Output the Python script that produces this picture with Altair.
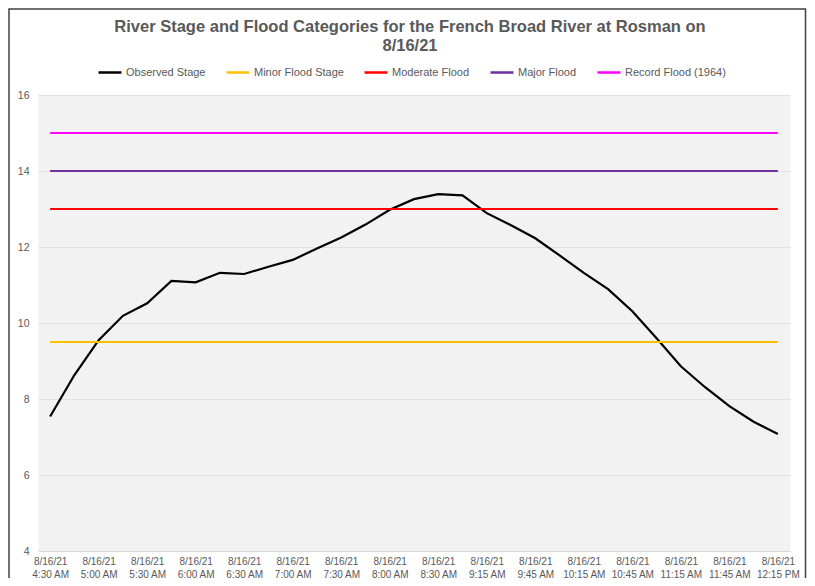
import altair as alt
import pandas as pd

# ---- data ----
date = "8/16/21"
times = ["4:30 AM", "4:45 AM", "5:00 AM", "5:15 AM", "5:30 AM", "5:45 AM", "6:00 AM",
         "6:15 AM", "6:30 AM", "6:45 AM", "7:00 AM", "7:15 AM", "7:30 AM", "7:45 AM",
         "8:00 AM", "8:15 AM", "8:30 AM", "9:00 AM", "9:15 AM", "9:30 AM", "9:45 AM",
         "10:00 AM", "10:15 AM", "10:30 AM", "10:45 AM", "11:00 AM", "11:15 AM",
         "11:30 AM", "11:45 AM", "12:00 PM", "12:15 PM"]
observed = [7.54, 8.63, 9.55, 10.19, 10.52, 11.11, 11.07, 11.32, 11.29, 11.48,
            11.66, 11.96, 12.25, 12.59, 12.98, 13.26, 13.39, 13.36, 12.89, 12.57,
            12.23, 11.78, 11.32, 10.89, 10.31, 9.60, 8.86, 8.31, 7.81, 7.40, 7.08]
series_names = ["Observed Stage", "Minor Flood Stage", "Moderate Flood",
                "Major Flood", "Record Flood (1964)"]
flood_levels = [9.5, 13.0, 14.0, 15.0]
colors = ["#000000", "#FFC000", "#FF0000", "#7030A0", "#FF00FF"]
y_ticks = [4, 6, 8, 10, 12, 14, 16]

categories = [f"{date} {t}" for t in times]
label_values = categories[::2]

obs_df = pd.DataFrame({"time": categories, "stage": observed, "series": series_names[0]})
flood_rows = []
for name, lvl in zip(series_names[1:], flood_levels):
    for c in categories:
        flood_rows.append({"time": c, "stage": lvl, "series": name})
flood_df = pd.DataFrame(flood_rows)

FONT = "Liberation Sans"
GREY = "#595959"

x_enc = alt.X(
    "time:O",
    sort=categories,
    scale=alt.Scale(type="point", padding=0.5, domain=categories),
    axis=alt.Axis(
        values=label_values,
        labelExpr="[slice(datum.value, 0, 7), slice(datum.value, 8)]",
        labelAngle=0,
        labelFont=FONT,
        labelFontSize=10,
        labelColor=GREY,
        labelPadding=5.5,
        labelLineHeight=12.5,
        ticks=False,
        domainColor="#D9D9D9",
        grid=False,
        title=None,
    ),
)
y_enc = alt.Y(
    "stage:Q",
    scale=alt.Scale(domain=[4, 16], nice=False, zero=False),
    axis=alt.Axis(
        values=y_ticks,
        labelFont=FONT,
        labelFontSize=10.5,
        labelColor=GREY,
        labelPadding=9,
        ticks=False,
        domain=False,
        gridColor="#E2E2E2",
        gridWidth=1,
        title=None,
    ),
)
color_enc = alt.Color(
    "series:N",
    scale=alt.Scale(domain=series_names, range=colors),
    legend=alt.Legend(
        orient="none",
        legendX=59,
        legendY=-35.5,
        direction="horizontal",
        title=None,
        symbolType="stroke",
        symbolSize=529,
        symbolStrokeWidth=2.5,
        labelFont=FONT,
        labelFontSize=11,
        labelColor=GREY,
        labelOffset=3,
        columnPadding=15,
    ),
)

frame = alt.Chart(pd.DataFrame({"f": [0]})).mark_rect(
    filled=False, stroke="#404040", strokeWidth=1.5
).encode(x=alt.value(-29), x2=alt.value(767.5), y=alt.value(-86), y2=alt.value(530))

obs_line = alt.Chart(obs_df).mark_line(strokeWidth=2.2).encode(
    x=x_enc, y=y_enc, color=color_enc
)
flood_lines = alt.Chart(flood_df).mark_line(strokeWidth=2.2).encode(
    x=x_enc, y=y_enc, color=color_enc, detail="series:N"
)

chart = alt.layer(frame, obs_line, flood_lines).properties(
    width=752,
    height=456,
    autosize="none",
    padding={"left": 30, "top": 87, "right": 17, "bottom": 27},
    background="white",
    title=alt.TitleParams(
        text=["River Stage and Flood Categories for the French Broad River at Rosman on", "8/16/21"],
        font=FONT,
        fontSize=16.5,
        fontWeight="bold",
        color=GREY,
        anchor="middle",
        frame="group",
        lineHeight=19,
        offset=-46.5,
        dx=-4,
    ),
).configure_view(fill="#F2F2F2", stroke="transparent")

chart.save("out.html", embed_options={"renderer": "svg", "actions": False})
